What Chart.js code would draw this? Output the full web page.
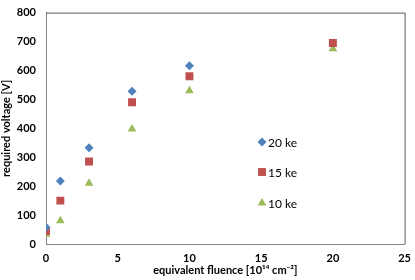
<!DOCTYPE html>
<html><head><meta charset="utf-8">
<script src="https://cdn.jsdelivr.net/npm/chart.js@4/dist/chart.umd.min.js"></script>
<style>html,body{margin:0;padding:0;background:#fff}#wrap{width:415px;height:280px}</style>
</head><body><div id="wrap"><canvas id="c" width="415" height="280"></canvas></div>
<script>
const fluence = [0, 1, 3, 6, 10, 20];
const v20ke = [58, 218, 333, 528, 616, null];
const v15ke = [45, 150, 285, 490, 580, 695];
const v10ke = [33, 80, 210, 398, 530, 675];
const seriesLabels = ['20 ke', '15 ke', '10 ke'];
const xTitle = 'equivalent fluence [10¹⁴ cm⁻²]';
const yTitle = 'required voltage [V]';

const mk = (arr) => fluence.map((x, i) => ({x: x, y: arr[i]}));
const FONT = 'Lato, "Open Sans", sans-serif';

const dsBase = {showLine: false, borderWidth: 0};
new Chart(document.getElementById('c'), {
  type: 'scatter',
  data: {
    datasets: [
      {...dsBase, label: seriesLabels[0], data: mk(v20ke), pointStyle: 'rectRot', pointRadius: 4.5, backgroundColor: '#4F81BD', borderColor: '#4F81BD'},
      {...dsBase, label: seriesLabels[1], data: mk(v15ke), pointStyle: 'rect', pointRadius: 5.6, backgroundColor: '#C0504D', borderColor: '#C0504D'},
      {...dsBase, label: seriesLabels[2], data: mk(v10ke), pointStyle: 'triangle', pointRadius: 5, backgroundColor: '#9BBB59', borderColor: '#9BBB59'}
    ]
  },
  options: {
    responsive: false,
    animation: false,
    layout: {padding: {top: 4, right: 6, left: 0, bottom: 0}},
    plugins: {
      legend: {display: false},
      tooltip: {enabled: false}
    },
    scales: {
      x: {
        type: 'linear', min: 0, max: 25,
        ticks: {stepSize: 5, color: '#000', font: {family: FONT, size: 11, weight: 'bold'}, padding: 4, maxRotation: 0},
        grid: {display: false, drawTicks: true, tickLength: 4, tickColor: '#868686'},
        border: {display: true, color: '#868686', width: 1},
        title: {display: true, text: xTitle, color: '#000', font: {family: FONT, size: 11, weight: 'bold'}, padding: {top: 2, bottom: 3}},
        afterFit(s) { s.height = 36; }
      },
      y: {
        type: 'linear', min: 0, max: 800,
        ticks: {stepSize: 100, color: '#000', font: {family: FONT, size: 11, weight: 'bold'}, padding: 6},
        grid: {display: false, drawTicks: true, tickLength: 4, tickColor: '#868686'},
        border: {display: true, color: '#868686', width: 1},
        title: {display: true, text: yTitle, color: '#000', font: {family: FONT, size: 11, weight: 'bold'}, padding: {top: 0, bottom: 2}},
        afterFit(s) { s.width = 46; }
      }
    }
  },
  plugins: [{
    id: 'boxAndLegend',
    beforeDatasetsDraw(chart) {
      const {ctx, chartArea: a} = chart;
      ctx.save();
      ctx.strokeStyle = '#5a5a5a';
      ctx.lineWidth = 1;
      ctx.beginPath();
      ctx.moveTo(a.left, a.top + 0.5); ctx.lineTo(a.right + 0.5, a.top + 0.5); ctx.lineTo(a.right + 0.5, a.bottom);
      ctx.stroke();
      ctx.restore();
    },
    afterDatasetsDraw(chart) {
      const ctx = chart.ctx;
      const ys = [142, 172, 203];
      chart.data.datasets.forEach((ds, i) => {
        const x = 262, y = ys[i];
        ctx.save();
        ctx.fillStyle = ds.backgroundColor;
        ctx.strokeStyle = ds.borderColor;
        Chart.helpers.drawPoint(ctx, {pointStyle: ds.pointStyle, radius: ds.pointRadius, rotation: 0, borderWidth: 0}, x, y);
        ctx.fillStyle = '#000';
        ctx.font = '12px ' + FONT;
        ctx.textBaseline = 'middle';
        ctx.fillText(ds.label, x + 6, y + 1);
        ctx.restore();
      });
    }
  }]
});
</script></body></html>
